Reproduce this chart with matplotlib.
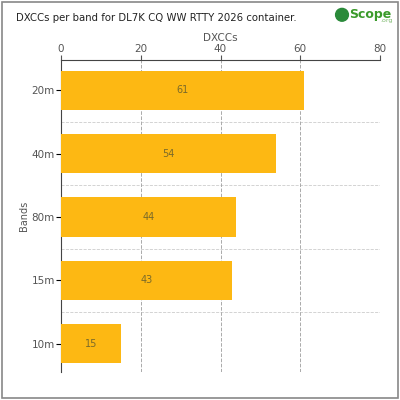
import matplotlib
matplotlib.use("Agg")
import matplotlib.pyplot as plt
from matplotlib.patches import Rectangle

bands = ["20m", "40m", "80m", "15m", "10m"]
dxccs = [61, 54, 44, 43, 15]

fig = plt.figure(figsize=(4, 4), dpi=100)
fig.patches.append(Rectangle((0.005, 0.005), 0.99, 0.99, transform=fig.transFigure,
                             fill=False, edgecolor="#888888", linewidth=1.2))
ax = fig.add_axes([0.1525, 0.07, 0.7975, 0.78])
y = list(range(len(bands)))
ax.barh(y, dxccs, height=0.62, color="#FDB813", zorder=3)
for yi, v in zip(y, dxccs):
    ax.text(v / 2, yi, str(v), ha="center", va="center", fontsize=7, color="#7a6a2a", zorder=4)
ax.set_xlim(0, 80)
ax.set_ylim(4.45, -0.48)
ax.set_yticks(y)
ax.set_yticklabels(bands, fontsize=7.5, color="#555555")
ax.xaxis.tick_top()
ax.xaxis.set_label_position("top")
ax.set_xticks([0, 20, 40, 60, 80])
ax.tick_params(axis="x", labelsize=7.5, colors="#555555", pad=1)
ax.tick_params(axis="y", pad=1)
ax.set_xlabel("DXCCs", fontsize=7.5, color="#555555", labelpad=2)
ax.set_ylabel("Bands", fontsize=7, color="#555555", labelpad=2)
ax.grid(axis="x", linestyle="--", color="#aaaaaa", linewidth=0.7, zorder=0)
for yy in [0.5, 1.5, 2.5, 3.5]:
    ax.axhline(yy, linestyle="--", color="#cccccc", linewidth=0.6, zorder=0)
for s in ["right", "bottom"]:
    ax.spines[s].set_visible(False)
ax.spines["top"].set_color("#444444")
ax.spines["left"].set_color("#444444")
fig.text(0.04, 0.955, "DXCCs per band for DL7K CQ WW RTTY 2026 container.",
         fontsize=7.3, va="center", color="#222222")
fig.patches.append(plt.Circle((0.855, 0.963), 0.016, transform=fig.transFigure, color="#2a8a3a"))
fig.text(0.872, 0.963, "Scope", fontsize=9, color="#3a9a2a", fontweight="bold", va="center")
fig.text(0.952, 0.948, ".org", fontsize=4.5, color="#7ab86a", va="center")
fig.savefig("out.png", dpi=100)
